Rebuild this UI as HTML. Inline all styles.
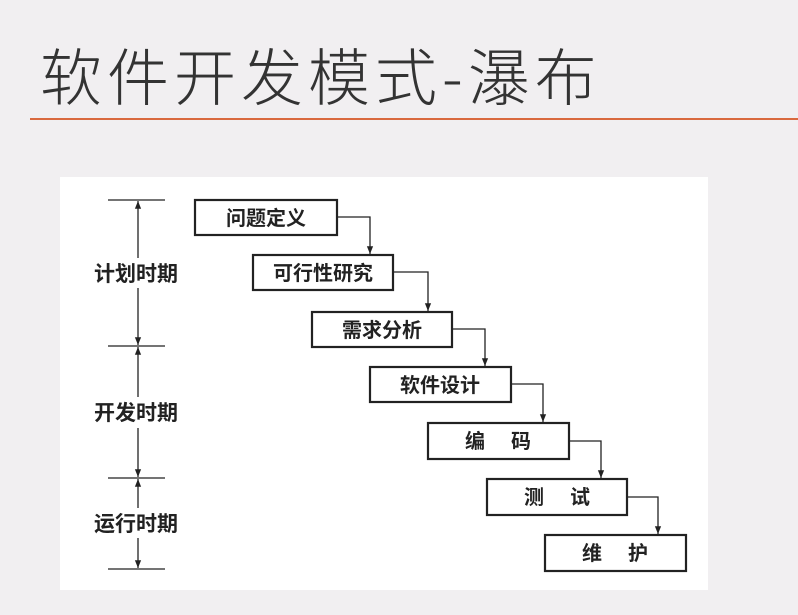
<!DOCTYPE html>
<html><head><meta charset="utf-8"><style>
body{margin:0;width:798px;height:615px;background:#f1eff1;position:relative;overflow:hidden;font-family:"Liberation Sans","Noto Sans CJK SC",sans-serif}
.t{position:absolute;left:40px;top:28px;font-size:62px;font-weight:300;color:#333;letter-spacing:5px;white-space:nowrap;font-family:"Noto Sans CJK SC",sans-serif}
.line{position:absolute;left:30px;top:118px;width:768px;height:2px;background:#d9693e}
.panel{position:absolute;left:60px;top:177px;width:648px;height:413px;background:#fff}
</style></head><body>
<div class="t">软件开发模式-瀑布</div>
<div class="line"></div>
<div class="panel"></div>
<svg width="798" height="615" style="position:absolute;left:0;top:0">
<defs><marker id="a" viewBox="0 0 10 10" refX="10" refY="5" markerWidth="6" markerHeight="8" orient="auto"><path d="M0,1L10,5L0,9z" fill="#222"/></marker></defs>
<g stroke="#222" stroke-width="1.3" fill="none">
<line x1="108" y1="200" x2="165" y2="200"/>
<line x1="108" y1="346" x2="165" y2="346"/>
<line x1="108" y1="478" x2="165" y2="478"/>
<line x1="108" y1="569" x2="165" y2="569"/>
<line x1="138" y1="258" x2="138" y2="201" marker-end="url(#a)"/>
<line x1="138" y1="288" x2="138" y2="345" marker-end="url(#a)"/>
<line x1="138" y1="397" x2="138" y2="347" marker-end="url(#a)"/>
<line x1="138" y1="428" x2="138" y2="477" marker-end="url(#a)"/>
<line x1="138" y1="508" x2="138" y2="479" marker-end="url(#a)"/>
<line x1="138" y1="538" x2="138" y2="568" marker-end="url(#a)"/>
</g>
<g font-size="21" font-weight="bold" fill="#222" font-family="Noto Sans CJK SC,sans-serif" text-anchor="middle" stroke="#fff" stroke-width="6" paint-order="stroke">
<text x="136" y="281">计划时期</text>
<text x="136" y="420">开发时期</text>
<text x="136" y="531">运行时期</text>
</g>
<g stroke="#222" stroke-width="2.2" fill="#fff">
<rect x="195" y="200" width="142" height="35"/>
<rect x="253" y="255" width="140" height="35"/>
<rect x="312" y="312" width="140" height="35"/>
<rect x="370" y="367" width="141" height="35"/>
<rect x="428" y="423" width="141" height="36"/>
<rect x="487" y="479" width="140" height="36"/>
<rect x="545" y="535" width="141" height="36"/>
</g>
<g stroke="#222" stroke-width="1.3" fill="none">
<polyline points="337,217 370,217 370,254" marker-end="url(#a)"/>
<polyline points="393,272 428,272 428,311" marker-end="url(#a)"/>
<polyline points="452,329 485,329 485,366" marker-end="url(#a)"/>
<polyline points="511,384 543,384 543,422" marker-end="url(#a)"/>
<polyline points="569,441 601,441 601,478" marker-end="url(#a)"/>
<polyline points="627,497 658,497 658,534" marker-end="url(#a)"/>
</g>
<g font-size="20" font-weight="bold" fill="#222" font-family="Noto Sans CJK SC,sans-serif" text-anchor="middle">
<text x="266" y="225">问题定义</text>
<text x="323" y="280">可行性研究</text>
<text x="382" y="337">需求分析</text>
<text x="440" y="392">软件设计</text>
<text x="475" y="448">编</text><text x="521" y="448">码</text>
<text x="534" y="504">测</text><text x="580" y="504">试</text>
<text x="592" y="560">维</text><text x="638" y="560">护</text>
</g>
</svg>
</body></html>
